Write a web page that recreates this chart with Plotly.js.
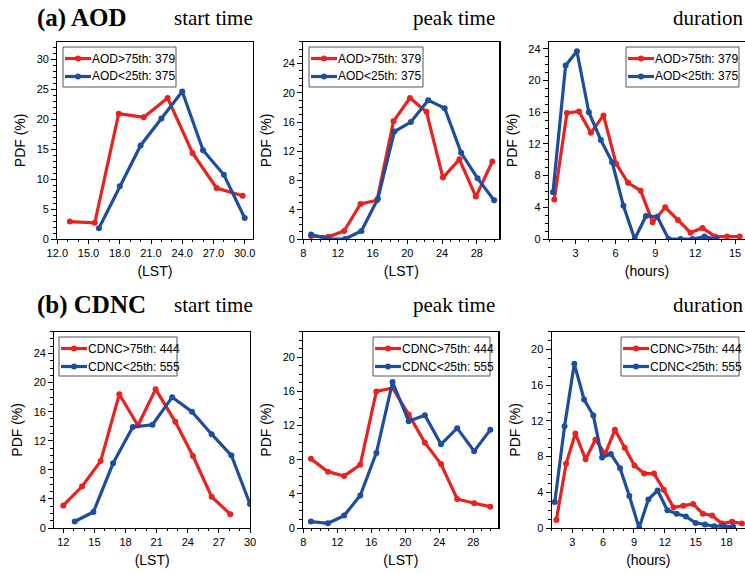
<!DOCTYPE html>
<html>
<head>
<meta charset="utf-8">
<script src="https://cdn.plot.ly/plotly-3.0.1.min.js"></script>
<style>html,body{margin:0;padding:0;background:#fff}#chart{width:745px;height:574px}</style>
</head>
<body>
<div id="chart"></div>
<script>
// ---- Data ----
// (a) AOD, start time
var aodStartHighX = [13.2, 15.6, 17.9, 20.3, 22.6, 25.0, 27.3, 29.8];
var aodStartHighY = [2.9, 2.7, 20.9, 20.3, 23.5, 14.3, 8.5, 7.2];
var aodStartLowX  = [16, 18, 20, 22, 24, 26, 28, 30];
var aodStartLowY  = [1.8, 8.8, 15.6, 20.1, 24.6, 14.8, 10.7, 3.5];
// (a) AOD, peak time
var aodPeakHighX = [8.9, 10.9, 12.7, 14.6, 16.5, 18.4, 20.3, 22.2, 24.1, 26.0, 27.9, 29.8];
var aodPeakHighY = [0.4, 0.3, 1.1, 4.8, 5.3, 16.1, 19.3, 17.4, 8.4, 10.9, 5.8, 10.6];
var aodPeakLowX  = [8.9, 10.9, 12.8, 14.7, 16.6, 18.5, 20.4, 22.4, 24.3, 26.2, 28.1, 30.0];
var aodPeakLowY  = [0.6, 0.0, 0.0, 1.1, 5.5, 14.7, 16.0, 19.0, 17.9, 11.8, 8.3, 5.3];
// (a) AOD, duration
var aodDurHighX = [1.4, 2.35, 3.25, 4.15, 5.1, 6.05, 6.95, 7.9, 8.8, 9.75, 10.7, 11.65, 12.55, 13.5, 14.4, 15.35];
var aodDurHighY = [5.0, 15.9, 16.1, 13.4, 15.6, 9.5, 7.1, 6.1, 2.1, 4.0, 2.4, 0.8, 1.4, 0.3, 0.3, 0.3];
var aodDurLowX  = [1.3, 2.25, 3.1, 4.0, 4.9, 5.75, 6.6, 7.45, 8.3, 9.15, 10.0, 10.9, 11.8, 12.7, 13.6];
var aodDurLowY  = [5.9, 21.9, 23.7, 16.0, 12.5, 9.7, 4.2, 0.0, 2.9, 2.8, 0.0, 0.0, 0.0, 0.3, 0.0];
// (b) CDNC, start time
var cdncStartHighX = [12.0, 13.8, 15.6, 17.4, 19.2, 20.9, 22.8, 24.5, 26.3, 28.1];
var cdncStartHighY = [3.1, 5.7, 9.2, 18.4, 14.1, 19.1, 14.6, 9.9, 4.3, 1.9];
var cdncStartLowX  = [13.1, 14.9, 16.8, 18.7, 20.6, 22.5, 24.4, 26.3, 28.2, 30.0];
var cdncStartLowY  = [0.9, 2.2, 8.9, 13.9, 14.2, 18.0, 16.0, 12.9, 10.0, 3.3];
// (b) CDNC, peak time
var cdncPeakHighX = [8.9, 10.9, 12.8, 14.7, 16.6, 18.5, 20.4, 22.3, 24.2, 26.1, 28.1, 30.0];
var cdncPeakHighY = [8.1, 6.6, 6.1, 7.4, 16.0, 16.4, 13.3, 10.0, 7.5, 3.4, 2.9, 2.5];
var cdncPeakLowX  = [8.9, 10.9, 12.8, 14.7, 16.6, 18.5, 20.4, 22.3, 24.2, 26.1, 28.1, 30.0];
var cdncPeakLowY  = [0.75, 0.55, 1.45, 3.8, 8.8, 17.1, 12.5, 13.2, 9.8, 11.7, 9.0, 11.5];
// (b) CDNC, duration
var cdncDurHighX = [1.45, 2.4, 3.3, 4.3, 5.25, 6.2, 7.15, 8.1, 9.05, 10.0, 10.95, 11.9, 12.85, 13.8, 14.75, 15.7, 16.6, 17.55, 18.55, 19.5];
var cdncDurHighY = [0.9, 7.2, 10.6, 7.7, 9.9, 8.3, 11.0, 9.0, 7.0, 6.1, 6.1, 4.3, 2.3, 2.5, 2.7, 1.6, 1.4, 0.5, 0.7, 0.5];
var cdncDurLowX  = [1.3, 2.25, 3.2, 4.15, 5.05, 5.9, 6.75, 7.65, 8.55, 9.5, 10.4, 11.3, 12.25, 13.15, 14.05, 15.0, 15.9, 16.8, 17.7, 18.65];
var cdncDurLowY  = [2.9, 11.4, 18.4, 14.4, 12.6, 7.9, 8.3, 6.7, 3.6, 0.0, 3.2, 4.2, 2.0, 1.6, 1.3, 0.55, 0.4, 0.2, 0.2, 0.15];

var aodLabels  = ['AOD>75th: 379', 'AOD<25th: 375'];
var cdncLabels = ['CDNC>75th: 444', 'CDNC<25th: 555'];
var panelTitles = ['start time', 'peak time', 'duration'];
var rowTitles = ['(a) AOD', '(b) CDNC'];

// ---- Styles ----
var RED = '#e8221e', BLUE = '#1f4d9e';
var W = 745, H = 574;

function tr(x, y, name, color, n) {
  return {
    x: x, y: y, name: name, type: 'scatter', mode: 'lines+markers',
    line: {color: color, width: 3.2},
    marker: {color: color, size: 6},
    xaxis: 'x' + (n === 1 ? '' : n), yaxis: 'y' + (n === 1 ? '' : n),
    showlegend: false
  };
}

var data = [
  tr(aodStartHighX, aodStartHighY, aodLabels[0], RED, 1),
  tr(aodStartLowX, aodStartLowY, aodLabels[1], BLUE, 1),
  tr(aodPeakHighX, aodPeakHighY, aodLabels[0], RED, 2),
  tr(aodPeakLowX, aodPeakLowY, aodLabels[1], BLUE, 2),
  tr(aodDurHighX, aodDurHighY, aodLabels[0], RED, 3),
  tr(aodDurLowX, aodDurLowY, aodLabels[1], BLUE, 3),
  tr(cdncStartHighX, cdncStartHighY, cdncLabels[0], RED, 4),
  tr(cdncStartLowX, cdncStartLowY, cdncLabels[1], BLUE, 4),
  tr(cdncPeakHighX, cdncPeakHighY, cdncLabels[0], RED, 5),
  tr(cdncPeakLowX, cdncPeakLowY, cdncLabels[1], BLUE, 5),
  tr(cdncDurHighX, cdncDurHighY, cdncLabels[0], RED, 6),
  tr(cdncDurLowX, cdncDurLowY, cdncLabels[1], BLUE, 6)
];

var sans = 'Liberation Sans, Arial, sans-serif';
var tickFont = {family: sans, size: 11, color: '#000'};
var titleFont = {family: sans, size: 14, color: '#000'};

function xax(x0, x1, range, dtick, fmt, title, anchor) {
  return {
    domain: [x0 / W, x1 / W], range: range, anchor: anchor,
    dtick: dtick, tick0: 0, tickformat: fmt,
    ticks: 'outside', ticklen: 4, tickwidth: 1, tickcolor: '#000',
    minor: {dtick: 1, tick0: 0, ticks: 'outside', ticklen: 2, tickcolor: '#000'},
    showline: true, linecolor: '#000', linewidth: 1.2, mirror: true,
    showgrid: false, zeroline: false, tickfont: tickFont,
    title: {text: title, font: titleFont, standoff: 7}
  };
}
function yax(y0, y1, range, dtick, anchor, mirror) {
  return {
    domain: [1 - y1 / H, 1 - y0 / H], range: range, anchor: anchor,
    dtick: dtick, tick0: 0,
    ticks: 'outside', ticklen: 5, tickwidth: 1, tickcolor: '#000',
    minor: {dtick: 1, tick0: 0, ticks: 'outside', ticklen: 3, tickcolor: '#000'},
    showline: true, linecolor: '#000', linewidth: 1.2, mirror: mirror,
    showgrid: false, zeroline: false, tickfont: tickFont,
    title: {text: 'PDF (%)', font: titleFont, standoff: 7}
  };
}

var R1 = [41.7, 239], R2 = [331.7, 528];
var layout = {
  width: W, height: H,
  margin: {l: 0, r: 0, t: 0, b: 0},
  paper_bgcolor: '#fff', plot_bgcolor: '#fff',
  showlegend: false,
  xaxis:  xax(57.3, 252.5, [12, 30.75], 3, '.1f', '(LST)', 'y'),
  yaxis:  yax(R1[0], R1[1], [0, 32.9], 5, 'x', true),
  xaxis2: xax(303.3, 499.3, [8, 30.6], 4, '', '(LST)', 'y2'),
  yaxis2: yax(R1[0], R1[1], [0, 27], 4, 'x2', true),
  xaxis3: xax(549, 745, [1, 15.75], 3, '', '(hours)', 'y3'),
  yaxis3: yax(R1[0], R1[1], [0, 24.9], 4, 'x3', false),
  xaxis4: xax(54.3, 250, [11.13, 30], 3, '', '(LST)', 'y4'),
  yaxis4: yax(R2[0], R2[1], [0, 27], 4, 'x4', true),
  xaxis5: xax(303.3, 498.3, [8, 30.94], 4, '', '(LST)', 'y5'),
  yaxis5: yax(R2[0], R2[1], [0, 23], 4, 'x5', true),
  xaxis6: xax(551.7, 745, [1, 19.8], 3, '', '(hours)', 'y6'),
  yaxis6: yax(R2[0], R2[1], [0, 22], 4, 'x6', false),
  shapes: [],
  annotations: []
};

// ---- Legends (drawn as boxes, swatches and text in pixel space) ----
function px(x) { return x / W; }
function py(y) { return 1 - y / H; }
var legendBoxes = [
  {l: 63, r: 176, t: 47, b: 87, labels: aodLabels},
  {l: 309, r: 423, t: 47, b: 87, labels: aodLabels},
  {l: 626, r: 739, t: 47, b: 87, labels: aodLabels},
  {l: 59, r: 177, t: 337, b: 376, labels: cdncLabels},
  {l: 373, r: 490, t: 337, b: 376, labels: cdncLabels},
  {l: 621, r: 739, t: 337, b: 376, labels: cdncLabels}
];
var legColors = [RED, BLUE];
legendBoxes.forEach(function (b) {
  layout.shapes.push({type: 'rect', xref: 'paper', yref: 'paper',
    x0: px(b.l), x1: px(b.r), y0: py(b.b), y1: py(b.t),
    line: {color: '#555', width: 1}, fillcolor: '#fff', layer: 'above'});
  for (var i = 0; i < 2; i++) {
    var yy = b.t + 11.5 + i * 18;
    layout.shapes.push({type: 'line', xref: 'paper', yref: 'paper',
      x0: px(b.l + 2), x1: px(b.l + 28), y0: py(yy), y1: py(yy),
      line: {color: legColors[i], width: 3.2}, layer: 'above'});
    layout.shapes.push({type: 'circle', xref: 'paper', yref: 'paper',
      x0: px(b.l + 12), x1: px(b.l + 18), y0: py(yy + 3), y1: py(yy - 3),
      line: {width: 0}, fillcolor: legColors[i], layer: 'above'});
    layout.annotations.push({text: b.labels[i], xref: 'paper', yref: 'paper',
      x: px(b.l + 27.5), y: py(yy), xanchor: 'left', yanchor: 'middle',
      showarrow: false, borderpad: 0,
      font: {family: sans, size: 12, color: '#000'}});
  }
});

// ---- Panel titles ----
var serif = 'Liberation Serif, Times New Roman, serif';
var rowY = [18, 305];
var rightX = [255, 497, 745];
for (var r = 0; r < 2; r++) {
  layout.annotations.push({
    text: '<b>' + rowTitles[r] + '</b>', xref: 'paper', yref: 'paper',
    x: px(35), y: py(rowY[r]), xanchor: 'left', yanchor: 'middle',
    showarrow: false, font: {family: serif, size: 25, color: '#000'}
  });
  for (var c = 0; c < 3; c++) {
    layout.annotations.push({
      text: panelTitles[c], xref: 'paper', yref: 'paper',
      x: px(rightX[c]), y: py(rowY[r]), xanchor: 'right', yanchor: 'middle',
      showarrow: false, font: {family: serif, size: 21, color: '#000'}
    });
  }
}

Plotly.newPlot('chart', data, layout, {displayModeBar: false, staticPlot: true});
</script>
</body>
</html>
